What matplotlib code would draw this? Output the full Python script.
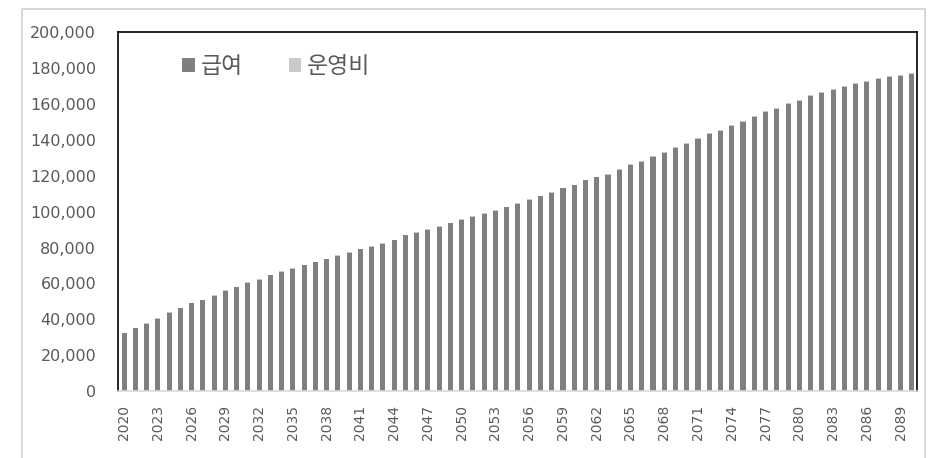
import matplotlib.pyplot as plt
from matplotlib.patches import Rectangle
from matplotlib.ticker import FuncFormatter

# Data
years = list(range(2020, 2091))
benefits = [
    32400, 35000, 37600, 40400, 43700, 46300, 48900, 50700, 53100, 55900,
    57800, 60400, 62000, 64600, 66500, 68100, 70000, 71700, 73500, 75200,
    77000, 78900, 80400, 82200, 84100, 86700, 88300, 90000, 91700, 93500,
    95400, 97100, 98900, 100600, 102400, 104100, 106700, 108500, 110400, 113000,
    114600, 117400, 119100, 120700, 123300, 125900, 127600, 130400, 132900, 135600,
    137900, 140700, 143100, 145000, 147800, 150200, 153000, 155600, 157400, 159800,
    161700, 164300, 166100, 167800, 169600, 171300, 172200, 173900, 174800, 175600,
    176500,
]
# operating costs are too small to see on the chart
opex = [
    200, 200, 200, 200, 250, 250, 250, 250, 250, 250,
    300, 300, 300, 300, 300, 300, 300, 300, 350, 350,
    350, 350, 350, 350, 350, 350, 400, 400, 400, 400,
    400, 400, 400, 400, 400, 450, 450, 450, 450, 450,
    450, 450, 450, 450, 500, 500, 500, 500, 500, 500,
    500, 500, 500, 550, 550, 550, 550, 550, 550, 550,
    550, 550, 600, 600, 600, 600, 600, 600, 600, 600,
    600,
]
labels = ["급여", "운영비"]

plt.rcParams["font.family"] = ["DejaVu Sans"]
text_color = "#595959"

fig = plt.figure(figsize=(9.32, 4.58), dpi=100)
ax = fig.add_axes([0.1271, 0.1463, 0.8573, 0.7832])

x = list(range(len(years)))
ax.bar(x, benefits, width=0.45, color="#7f7f7f", label=labels[0])
ax.bar(x, opex, width=0.45, bottom=benefits, color="#c9c9c9", label=labels[1])

ax.set_xlim(-0.5, len(years) - 0.5)
ax.set_ylim(0, 200000)
ax.set_yticks(range(0, 200001, 20000))
ax.yaxis.set_major_formatter(FuncFormatter(lambda v, p: f"{int(v):,}"))
ax.set_xticks(x[::3])
ax.set_xticklabels([str(y) for y in years[::3]], rotation=90)

ax.tick_params(axis="y", length=0, pad=16, labelsize=11.5, labelcolor=text_color)
ax.tick_params(axis="x", length=0, pad=10, labelsize=10, labelcolor=text_color)

for side in ["top", "left", "right"]:
    ax.spines[side].set_color("black")
    ax.spines[side].set_linewidth(1.2)
ax.spines["bottom"].set_color("#d9d9d9")
ax.spines["bottom"].set_linewidth(1.2)

leg = ax.legend(
    loc="center left", bbox_to_anchor=(0.054, 0.905), ncol=2, frameon=False,
    handlelength=0.55, handleheight=0.55, handletextpad=0.25, columnspacing=2.0,
    prop={"family": ["Noto Sans CJK KR", "DejaVu Sans"], "size": 16.5},
)
for t in leg.get_texts():
    t.set_color(text_color)

# light chart-area border
fig.patches.append(Rectangle((22 / 932, -0.01), 903 / 932, 1 - 9 / 458 + 0.01,
                             transform=fig.transFigure, fill=False,
                             edgecolor="#d0d0d0", linewidth=1.2))

plt.savefig("out.png", dpi=100)
